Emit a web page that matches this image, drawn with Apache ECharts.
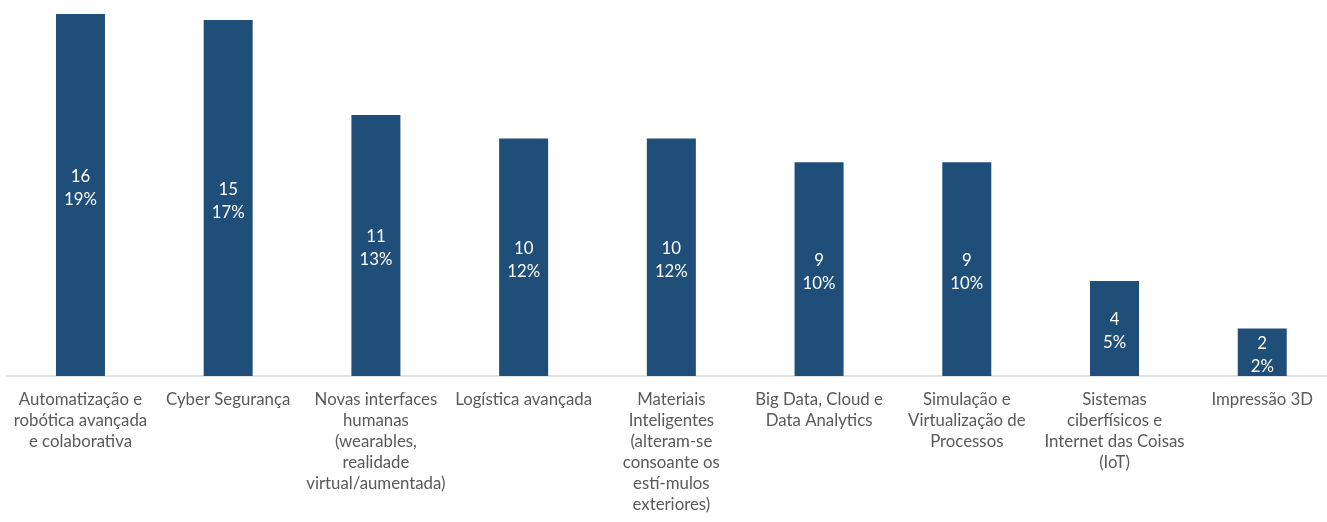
<!DOCTYPE html>
<html>
<head>
<meta charset="utf-8">
<script src="https://cdn.jsdelivr.net/npm/echarts@6/dist/echarts.min.js"></script>
<style>html,body{margin:0;padding:0;background:#fff;overflow:hidden;}#c{width:1340px;height:522px;}</style>
</head>
<body>
<div id="c"></div>
<script>
const categories = [
  "Automatização e\nrobótica avançada\ne colaborativa",
  "Cyber Segurança",
  "Novas interfaces\nhumanas\n(wearables,\nrealidade\nvirtual/aumentada)",
  "Logística avançada",
  "Materiais\nInteligentes\n(alteram-se\nconsoante os\nestí-mulos\nexteriores)",
  "Big Data, Cloud e\nData Analytics",
  "Simulação e\nVirtualização de\nProcessos",
  "Sistemas\nciberfísicos e\nInternet das Coisas\n(IoT)",
  "Impressão 3D"
];
const counts = [16, 15, 11, 10, 10, 9, 9, 4, 2];
const percents = ["19%", "17%", "13%", "12%", "12%", "10%", "10%", "5%", "2%"];

const yMax = 15.25;
const chart = echarts.init(document.getElementById('c'));
chart.setOption({
  animation: false,
  textStyle: { fontFamily: 'Lato' },
  grid: { left: 6.6, width: 1329.5, top: 14, height: 362, containLabel: false },
  xAxis: {
    type: 'category',
    data: categories,
    axisLine: { lineStyle: { color: '#d9d9d9', width: 1.5 } },
    axisTick: { show: false },
    axisLabel: { interval: 0, color: '#595959', fontSize: 16.8, lineHeight: 21, margin: 13, fontFamily: 'Lato' }
  },
  yAxis: {
    type: 'value', min: 0, max: yMax, show: false,
    splitLine: { show: false }
  },
  series: [{
    type: 'bar',
    data: counts.map((v, i) => v > yMax
      ? { value: v, label: { offset: [0, -((v - yMax) * 362 / yMax) / 2 + 2] } }
      : v),
    barWidth: 49,
    itemStyle: { color: '#1f4e79' },
    label: {
      show: true, position: 'inside', color: '#ffffff', fontSize: 16.8, lineHeight: 23, fontFamily: 'Lato',
      offset: [0, 3],
      formatter: p => counts[p.dataIndex] + '\n' + percents[p.dataIndex]
    }
  }]
});
</script>
</body>
</html>
